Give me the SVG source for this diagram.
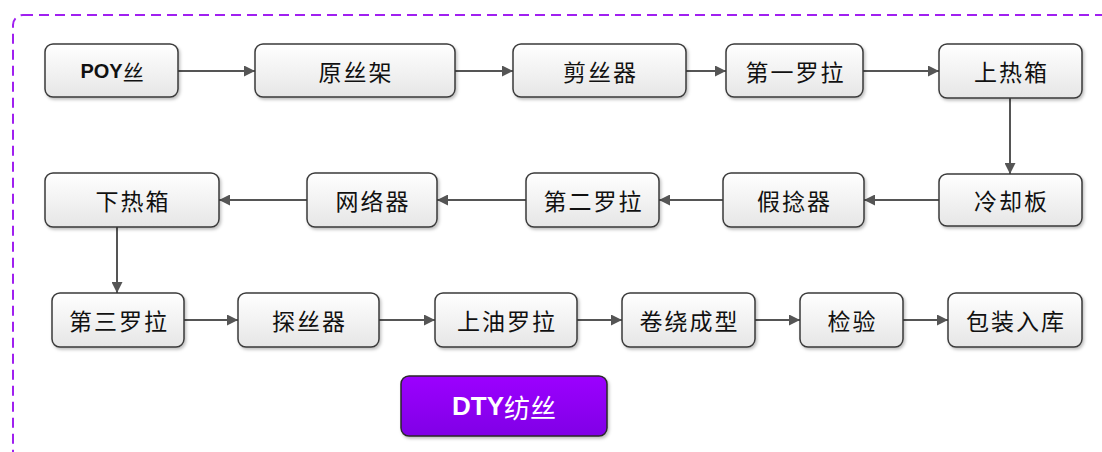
<svg xmlns="http://www.w3.org/2000/svg" width="1102" height="452" viewBox="0 0 1102 452">
<style>
.box{fill:url(#g);stroke:#3a3a3a;stroke-width:1.5;filter:url(#sh)}
.t{font-family:"Noto Sans CJK SC","Noto Sans",sans-serif;font-size:23px;letter-spacing:2px;fill:#111;text-anchor:middle;dominant-baseline:central}
.c{stroke:#555;stroke-width:2;fill:none;marker-end:url(#ah)}
</style>
<defs>
<linearGradient id="g" x1="0" y1="0" x2="0" y2="1"><stop offset="0" stop-color="#ffffff"/><stop offset="1" stop-color="#e6e6e6"/></linearGradient>
<linearGradient id="gp" x1="0" y1="0" x2="0" y2="1"><stop offset="0" stop-color="#9c00ff"/><stop offset="1" stop-color="#8000e6"/></linearGradient>
<filter id="sh" x="-10%" y="-10%" width="130%" height="140%"><feDropShadow dx="1.5" dy="2" stdDeviation="1.5" flood-color="#000" flood-opacity="0.25"/></filter>
<marker id="ah" viewBox="0 0 10 10" refX="10" refY="5" markerWidth="5.5" markerHeight="5.5" orient="auto"><path d="M0,0 L10,5 L0,10 Z" fill="#555"/></marker>
</defs>
<rect x="13" y="15" width="1110" height="460" rx="10" fill="none" stroke="#a020f0" stroke-width="2" stroke-dasharray="10 6"/>
<g id="connectors">
<line class="c" x1="178" y1="71" x2="255" y2="71"/>
<line class="c" x1="455" y1="71" x2="513" y2="71"/>
<line class="c" x1="686" y1="71" x2="726" y2="71"/>
<line class="c" x1="863" y1="71" x2="939" y2="71"/>
<line class="c" x1="1010" y1="98" x2="1010" y2="174"/>
<line class="c" x1="939" y1="200" x2="864" y2="200"/>
<line class="c" x1="723" y1="200" x2="659" y2="200"/>
<line class="c" x1="526" y1="200" x2="437" y2="200"/>
<line class="c" x1="307" y1="200" x2="219" y2="200"/>
<line class="c" x1="117" y1="227" x2="117" y2="293"/>
<line class="c" x1="184" y1="320" x2="238" y2="320"/>
<line class="c" x1="379" y1="320" x2="435" y2="320"/>
<line class="c" x1="577" y1="320" x2="622" y2="320"/>
<line class="c" x1="755" y1="320" x2="800" y2="320"/>
<line class="c" x1="903" y1="320" x2="948" y2="320"/>
</g>
<g id="n-poy"><rect class="box" x="45" y="44" width="133" height="53" rx="8"/><text class="t" x="112" y="70.5" style="letter-spacing:0"><tspan font-family="Liberation Sans,sans-serif" font-weight="bold" font-size="20">POY</tspan><tspan font-size="21">丝</tspan></text></g>
<g id="n-yuansijia"><rect class="box" x="255" y="44" width="200" height="53" rx="8"/><text class="t" x="356" y="70.5">原丝架</text></g>
<g id="n-jiansiqi"><rect class="box" x="513" y="44" width="173" height="53" rx="8"/><text class="t" x="600.5" y="70.5">剪丝器</text></g>
<g id="n-diyi"><rect class="box" x="726" y="44" width="137" height="53" rx="8"/><text class="t" x="795.5" y="70.5">第一罗拉</text></g>
<g id="n-shangrexiang"><rect class="box" x="939" y="44" width="143" height="54" rx="8"/><text class="t" x="1011.5" y="71">上热箱</text></g>
<g id="n-lengqueban"><rect class="box" x="939" y="174" width="143" height="52" rx="8"/><text class="t" x="1011.5" y="200">冷却板</text></g>
<g id="n-jianianqi"><rect class="box" x="723" y="173" width="141" height="54" rx="8"/><text class="t" x="794.5" y="200">假捻器</text></g>
<g id="n-dier"><rect class="box" x="526" y="173" width="133" height="54" rx="8"/><text class="t" x="593.5" y="200">第二罗拉</text></g>
<g id="n-wangluoqi"><rect class="box" x="307" y="173" width="130" height="54" rx="8"/><text class="t" x="373" y="200">网络器</text></g>
<g id="n-xiarexiang"><rect class="box" x="45" y="173" width="174" height="54" rx="8"/><text class="t" x="133" y="200">下热箱</text></g>
<g id="n-disan"><rect class="box" x="52" y="293" width="132" height="54" rx="8"/><text class="t" x="119" y="320">第三罗拉</text></g>
<g id="n-tansiqi"><rect class="box" x="238" y="293" width="141" height="54" rx="8"/><text class="t" x="309.5" y="320">探丝器</text></g>
<g id="n-shangyou"><rect class="box" x="435" y="293" width="142" height="54" rx="8"/><text class="t" x="507" y="320">上油罗拉</text></g>
<g id="n-juanrao"><rect class="box" x="622" y="293" width="133" height="54" rx="8"/><text class="t" x="689.5" y="320">卷绕成型</text></g>
<g id="n-jianyan"><rect class="box" x="800" y="293" width="103" height="54" rx="8"/><text class="t" x="852.5" y="320">检验</text></g>
<g id="n-baozhuang"><rect class="box" x="948" y="293" width="134" height="54" rx="8"/><text class="t" x="1016" y="320">包装入库</text></g>
<g id="n-dty"><rect x="401" y="376" width="206" height="60" rx="8" fill="url(#gp)" stroke="#2a2a2a" stroke-width="1.5" filter="url(#sh)"/><text class="t" x="504" y="406" style="fill:#fff;font-size:26px;font-weight:bold;letter-spacing:0"><tspan font-family="Liberation Sans,sans-serif">DTY</tspan><tspan font-weight="normal">纺丝</tspan></text></g>
</svg>
